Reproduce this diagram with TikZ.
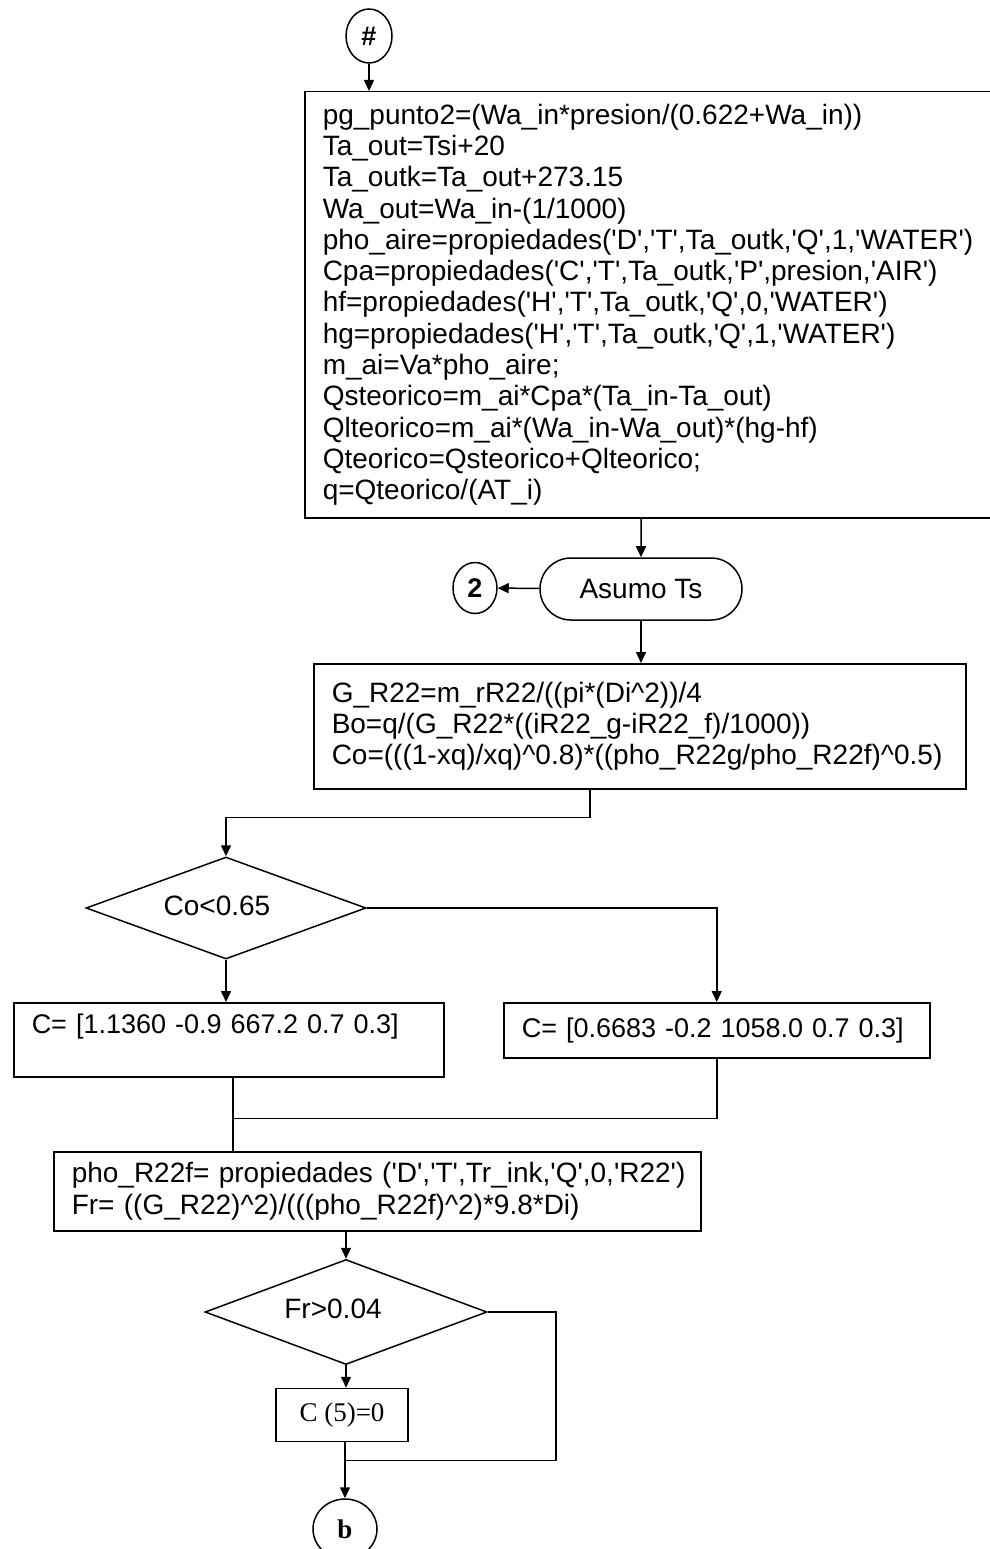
\documentclass[tikz,border=0pt]{standalone}
\usepackage{fontspec}
\setmainfont{Liberation Sans}
\newfontfamily\seriffont{Liberation Serif}
\usetikzlibrary{arrows.meta,shapes.geometric,shapes.misc,calc}
\newcommand\sq{\textquotesingle}
\newcommand\crt{\textasciicircum}
\begin{document}
\begin{tikzpicture}[x=1pt,y=-1pt,
  line width=1.5pt,
  txt/.style={font=\fontsize{28}{31.3}\selectfont},
  proc/.style={draw, rectangle, txt, align=left, inner xsep=18pt, inner ysep=0pt, anchor=north west},
  dec/.style={draw, diamond, txt, inner sep=0pt},
  term/.style={draw, rounded rectangle, txt, minimum width=202pt, minimum height=62pt, inner sep=0pt},
  conn/.style={draw, ellipse, inner sep=0pt, font=\fontsize{27}{30}\selectfont\bfseries},
  arr/.style={-{Triangle[length=11pt,width=10pt]}},
]
\useasboundingbox (0,0) rectangle (989,1549);

\node[conn, minimum width=46pt, minimum height=54pt] (hash) at (369,36) {\#};

\node[proc, text width=655pt, minimum height=426pt] (big) at (304,91) {%
pg\_punto2=(Wa\_in*presion/(0.622+Wa\_in))\\
Ta\_out=Tsi+20\\
Ta\_outk=Ta\_out+273.15\\
Wa\_out=Wa\_in-(1/1000)\\
pho\_aire=propiedades(\sq D\sq,\sq T\sq,Ta\_outk,\sq Q\sq,1,\sq WATER\sq)\\
Cpa=propiedades(\sq C\sq,\sq T\sq,Ta\_outk,\sq P\sq,presion,\sq AIR\sq)\\
hf=propiedades(\sq H\sq,\sq T\sq,Ta\_outk,\sq Q\sq,0,\sq WATER\sq)\\
hg=propiedades(\sq H\sq,\sq T\sq,Ta\_outk,\sq Q\sq,1,\sq WATER\sq)\\
m\_ai=Va*pho\_aire;\\
Qsteorico=m\_ai*Cpa*(Ta\_in-Ta\_out)\\
Qlteorico=m\_ai*(Wa\_in-Wa\_out)*(hg-hf)\\
Qteorico=Qsteorico+Qlteorico;\\
q=Qteorico/(AT\_i)};

\node[term] (asumo) at (641,589) {Asumo Ts};
\node[conn, minimum width=44pt, minimum height=51pt] (two) at (475,588) {2};

\node[proc, text width=616pt, minimum height=125pt] (gbox) at (313,663) {%
G\_R22=m\_rR22/((pi*(Di\crt 2))/4\\
Bo=q/(G\_R22*((iR22\_g-iR22\_f)/1000))\\
Co=(((1-xq)/xq)\crt 0.8)*((pho\_R22g/pho\_R22f)\crt 0.5)};

\node[dec, aspect=2.75, minimum width=280pt, minimum height=102pt] (co) at (226,908) {\raisebox{4pt}{Co<0.65}\hspace*{18pt}};

\node[proc, font=\fontsize{27}{31.3}\selectfont, text width=394pt, minimum height=74pt] (cA) at (13,1002) {C=~[1.1360~-0.9~667.2~0.7~0.3]\\\mbox{}};
\node[proc, font=\fontsize{27}{31.3}\selectfont, text width=390pt, minimum height=55pt] (cB) at (503,1002) {C=~[0.6683~-0.2~1058.0~0.7~0.3]};

\node[proc, text width=611pt, minimum height=79pt] (pho) at (53,1151) {%
pho\_R22f=~propiedades~(\sq D\sq,\sq T\sq,Tr\_ink,\sq Q\sq,0,\sq R22\sq)\\
Fr=~((G\_R22)\crt 2)/(((pho\_R22f)\crt 2)*9.8*Di)};

\node[dec, aspect=2.7, minimum width=282pt, minimum height=105pt] (fr) at (346,1312) {\raisebox{6pt}{Fr>0.04}\hspace*{26pt}};
\node[draw, rectangle, minimum width=132pt, minimum height=53pt, font=\seriffont\fontsize{27}{30}\selectfont] (c5) at (342,1415) {C (5)=0};
\node[conn, minimum width=64pt, minimum height=60pt, font=\seriffont\bfseries\fontsize{27}{30}\selectfont] (bb) at (345,1529) {b};

\draw[arr] (hash) -- (hash |- big.north);
\draw[arr] (big.south -| asumo) -- (asumo);
\draw[arr] (asumo) -- (two);
\draw[arr] (asumo) -- (gbox.north -| asumo);
\draw[arr] ([xshift=-50pt]gbox.south) -- ++(0,28) -| (co.north);
\draw[arr] (co.east) -| (cB.north);
\draw[arr] (co.south) -- (co.south |- cA.north);
\draw ([xshift=4pt]cA.south) -- ([xshift=4pt]cA.south |- pho.north);
\draw (cB.south) -- ++(0,60) -| ([xshift=4pt]cA.south);
\draw[arr] (pho.south -| fr) -- (fr.north);
\draw[arr] (fr.south) -- (fr.south |- c5.north);
\draw[arr] (c5.south -| bb) -- (bb.north);
\draw (fr.east) -- ++(68,0) |- ([yshift=-18pt]c5.south -| bb);
\end{tikzpicture}
\end{document}
